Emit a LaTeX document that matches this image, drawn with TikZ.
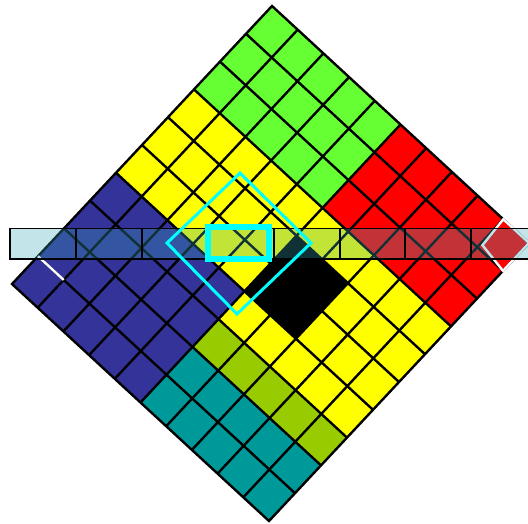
\documentclass[tikz,border=0pt]{standalone}
\usetikzlibrary{calc}

\definecolor{cellgreen}{RGB}{102,255,51}
\definecolor{cellred}{RGB}{255,0,0}
\definecolor{cellyellow}{RGB}{255,255,0}
\definecolor{cellblue}{RGB}{51,51,153}
\definecolor{cellteal}{RGB}{0,153,153}
\definecolor{cellolive}{RGB}{153,204,0}
\definecolor{barcol}{RGB}{55,167,183}
\definecolor{selcyan}{RGB}{0,255,255}

\begin{document}
\begin{tikzpicture}[
  x=1pt, y=-1pt,
  gridline/.style={line width=2.4pt},
  edgewhite/.style={white, line width=2.4pt},
  strip/.style={fill=barcol, fill opacity=0.3, draw=black, line width=1.6pt},
  divider/.style={black, line width=2pt},
  window/.style={draw=selcyan, line width=3pt},
  cursor/.style={draw=selcyan, line width=5.8pt}
]
\useasboundingbox (0,0) rectangle (528,523);

% diamond grid: i runs down the upper right edge, j down the upper left edge
\begin{scope}[shift={(272,6)}, x={(25.7pt,-23.7pt)}, y={(-26pt,-27.8pt)}]
  \foreach \ia/\ja/\ib/\jb/\col in {0/0/5/3/cellgreen, 5/0/10/3/cellred,
      0/3/5/6/cellyellow, 5/3/10/7/cellyellow, 0/6/5/10/cellblue,
      5/7/10/8/cellolive, 5/8/10/10/cellteal, 5/4/7/6/black}
    \fill[\col] (\ia,\ja) -- (\ib,\ja) -- (\ib,\jb) -- (\ia,\jb) -- cycle;

  \foreach \k in {1,...,9} {
    \draw[gridline] (\k,0) -- (\k,10);
    \draw[gridline] (0,\k) -- (10,\k);
  }
  \draw[gridline] (0,0) -- (10,0) -- (10,10) -- (0,10) -- cycle;
  \fill[black] (5,4) -- (7,4) -- (7,6) -- (5,6) -- cycle;

  \draw[edgewhite] (0,9) -- (1,9);
  \draw[edgewhite] (9,0) -- (10,0) -- (10,1) -- (9.07,0.87) -- cycle;
\end{scope}

% horizontal strip
\draw[strip] (10,228.5) rectangle (545,259);
\foreach \k in {1,...,7}
  \draw[divider] ({10+65.9*\k},228.5) -- ({10+65.9*\k},259);

% cyan marks
\draw[window] (240,173) -- (311,243) -- (237,314) -- (167,243) -- cycle;
\draw[cursor] (208,227.3) rectangle (269.3,258.7);

\end{tikzpicture}
\end{document}
